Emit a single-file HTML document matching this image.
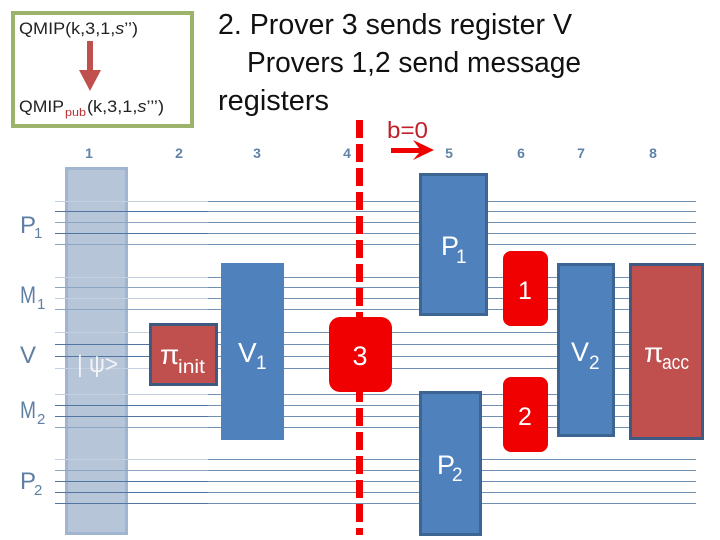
<!DOCTYPE html>
<html><head><meta charset="utf-8">
<style>html,body{margin:0;padding:0;background:#fff}svg{display:block}text{font-family:"Liberation Sans",sans-serif}</style>
</head><body>
<svg width="720" height="540" viewBox="0 0 720 540" xmlns="http://www.w3.org/2000/svg">
<rect width="720" height="540" fill="#fff"/>
<rect x="13" y="13" width="179" height="113" fill="#fff" stroke="#9bb36b" stroke-width="4"/>
<text x="19" y="34" font-size="17" fill="#222" textLength="119" lengthAdjust="spacingAndGlyphs">QMIP(k,3,1,<tspan font-style="italic">s</tspan>’’)</text>
<text x="19" y="112" font-size="17" fill="#222" textLength="45" lengthAdjust="spacingAndGlyphs">QMIP</text>
<text x="65" y="116" font-size="11" fill="#b83232" textLength="21" lengthAdjust="spacingAndGlyphs">pub</text>
<text x="87" y="112" font-size="17" fill="#222" textLength="77" lengthAdjust="spacingAndGlyphs">(k,3,1,<tspan font-style="italic">s</tspan>’’’)</text>
<polygon points="87,41 93,41 93,70 101,70 90,91 79,70 87,70" fill="#c0504d"/>
<text x="218" y="34" font-size="29" fill="#111" textLength="354" lengthAdjust="spacingAndGlyphs">2. Prover 3 sends register V</text>
<text x="247" y="72" font-size="29" fill="#111" textLength="334" lengthAdjust="spacingAndGlyphs">Provers 1,2 send message</text>
<text x="218" y="110" font-size="29" fill="#111" textLength="111" lengthAdjust="spacingAndGlyphs">registers</text>
<g font-size="14" font-weight="bold" fill="#6083a8" text-anchor="middle">
<text x="89" y="158">1</text><text x="179" y="158">2</text><text x="257" y="158">3</text><text x="347" y="158">4</text>
<text x="449" y="158">5</text><text x="521" y="158">6</text><text x="581" y="158">7</text><text x="653" y="158">8</text>
</g>
<text x="387" y="138" font-size="23" fill="#c0202a" textLength="41" lengthAdjust="spacingAndGlyphs">b=0</text>
<polygon points="391,148 419,148 413,140 434,150 413,160 419,153 391,153" fill="#f00000"/>
<rect x="66.500" y="168.500" width="60" height="365" fill="#b7c5d8" stroke="#a0b6d0" stroke-width="3"/>
<g stroke="#6f90b3" stroke-width="1" fill="none" shape-rendering="crispEdges">
<path d="M208 201.500H696M208 211.500H696M208 222.500H696M208 233.500H696M208 244.500H696"/>
<path d="M208 277.500H696M208 287.500H696M208 298.500H696M208 309.500H696"/>
<path d="M208 332.500H696M208 344.500H696M208 356.500H696M208 368.500H696"/>
<path d="M208 394.500H696M208 405.500H696M208 416.500H696M208 427.500H696"/>
<path d="M208 459.500H696M208 470.500H696M208 481.500H696M208 492.500H696M208 503.500H696"/>
</g>
<g stroke-width="1" fill="none" shape-rendering="crispEdges">
<path stroke="#c3d1e1" d="M55 201.500H208M55 277.500H208M55 298.500H208M55 332.500H208M55 368.500H208M55 394.500H208M55 459.500H208"/>
<path stroke="#8ba6c3" d="M55 222.500H208M55 244.500H208M55 287.500H208M55 309.500H208M55 427.500H208M55 470.500H208"/>
<path stroke="#4f75a0" d="M55 211.500H208M55 233.500H208M55 344.500H208M55 356.500H208M55 405.500H208M55 416.500H208M55 481.500H208M55 492.500H208M55 503.500H208"/>
</g>
<g fill="#5f7fa3" font-size="24">
<text x="20" y="233">P</text><text x="34" y="238" font-size="15">1</text>
<text x="20" y="303" textLength="16" lengthAdjust="spacingAndGlyphs">M</text><text x="37" y="309" font-size="15">1</text>
<text x="20" y="363">V</text>
<text x="20" y="418" textLength="16" lengthAdjust="spacingAndGlyphs">M</text><text x="37" y="424" font-size="15">2</text>
<text x="20" y="489">P</text><text x="34" y="495" font-size="15">2</text>
</g>
<text x="77" y="372" font-size="24" fill="#f2f4f8" textLength="41" lengthAdjust="spacingAndGlyphs">| ψ&gt;</text>
<rect x="150.500" y="324.500" width="66" height="60" fill="#c0504d" stroke="#3f5a82" stroke-width="3"/>
<text x="160" y="364" font-size="28" fill="#fff">π</text>
<text x="178" y="373" font-size="19" fill="#fff" textLength="27" lengthAdjust="spacingAndGlyphs">init</text>
<rect x="221" y="263" width="63" height="177" fill="#4f81bd"/>
<text x="238" y="362" font-size="28" fill="#fff">V</text><text x="256" y="369" font-size="19" fill="#fff">1</text>
<path d="M359.500 120V535" stroke="#f00000" stroke-width="7" stroke-dasharray="18 6" fill="none"/>
<rect x="329" y="317" width="63" height="75" rx="11" fill="#f00000"/>
<text x="360" y="365" font-size="27" fill="#fff" text-anchor="middle">3</text>
<rect x="420.500" y="174.500" width="66" height="140" fill="#4f81bd" stroke="#3d6594" stroke-width="3"/>
<text x="441" y="255" font-size="27" fill="#fff">P</text><text x="456" y="263" font-size="19" fill="#fff">1</text>
<rect x="503" y="251" width="45" height="75" rx="8" fill="#f00000"/>
<text x="525" y="299" font-size="25" fill="#fff" text-anchor="middle">1</text>
<rect x="558.500" y="264.500" width="55" height="171" fill="#4f81bd" stroke="#3d6594" stroke-width="3"/>
<text x="571" y="361" font-size="27" fill="#fff">V</text><text x="589" y="369" font-size="19" fill="#fff">2</text>
<rect x="630.500" y="264.500" width="72" height="174" fill="#c0504d" stroke="#3f5a82" stroke-width="3"/>
<text x="644" y="362" font-size="28" fill="#fff">π</text>
<text x="662" y="369" font-size="20" fill="#fff" textLength="27" lengthAdjust="spacingAndGlyphs">acc</text>
<rect x="420.500" y="392.500" width="60" height="142" fill="#4f81bd" stroke="#3d6594" stroke-width="3"/>
<text x="437" y="474" font-size="27" fill="#fff">P</text><text x="452" y="481" font-size="19" fill="#fff">2</text>
<rect x="503" y="377" width="45" height="75" rx="8" fill="#f00000"/>
<text x="525" y="425" font-size="25" fill="#fff" text-anchor="middle">2</text>
</svg>
</body></html>
